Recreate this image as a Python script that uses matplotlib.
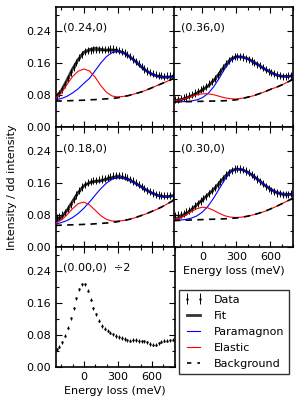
import matplotlib
matplotlib.use("Agg")
import matplotlib.pyplot as plt
from matplotlib.lines import Line2D
from matplotlib.ticker import MultipleLocator, FixedLocator, FormatStrFormatter

plt.rcParams['font.family'] = ['DejaVu Sans']
plt.rcParams['font.size'] = 8

# ---- energy grids (meV) ----
E_data = [-240, -215, -190, -165, -140, -115, -90, -65, -40, -15, 10, 35, 60, 85,
          110, 135, 160, 185, 210, 235, 260, 285, 310, 335, 360, 385, 410, 435,
          460, 485, 510, 535, 560, 585, 610, 635, 660, 685, 710, 735, 760, 785]
E_fit = [-250, -200, -150, -100, -50, 0, 50, 100, 150, 200, 250, 300, 350, 400,
         450, 500, 550, 600, 650, 700, 750, 800]

# ---- panel (0.24,0) ----
d24 = [.077, .084, .094, .107, .122, .137, .150, .161, .173, .182, .188, .191, .192, .193,
       .193, .193, .193, .193, .194, .195, .195, .194, .191, .188, .185, .181, .176, .170,
       .164, .158, .151, .145, .140, .136, .133, .131, .129, .128, .127, .128, .128, .129]
bg24 = [.065, .065, .0655, .066, .0665, .067, .068, .0685, .0695, .0705, .0715, .073, .076,
        .079, .083, .087, .092, .098, .104, .110, .116, .122]
el24 = [.007, .019, .040, .060, .073, .078, .072, .056, .034, .016, .006, .002, .0005,
        0, 0, 0, 0, 0, 0, 0, 0, 0]
pm24 = [.003, .006, .011, .019, .029, .042, .0536, .0723, .0906, .1057, .1145, .1155,
        .1094, .0978, .0823, .0652, .0487, .0343, .0228, .0142, .0084, .0047]

# ---- panel (0.36,0) ----
d36 = [.068, .069, .071, .073, .075, .078, .081, .085, .089, .093, .097, .102, .108, .114,
       .121, .129, .139, .148, .158, .166, .172, .176, .177, .176, .175, .172, .169, .165,
       .161, .157, .153, .148, .143, .139, .136, .133, .130, .128, .127, .127, .128, .129]
bg36 = [.063, .063, .0632, .0635, .064, .0642, .0645, .065, .0652, .0657, .0667, .068, .071,
        .0745, .078, .083, .088, .094, .099, .105, .112, .119]
el36 = [.0022, .0045, .0081, .0124, .0164, .0188, .0185, .0157, .0115, .0073, .004, .0019,
        .0008, .0003, 0, 0, 0, 0, 0, 0, 0, 0]
pm36 = [0, .0001, .0004, .0013, .0037, .009, .0191, .0354, .0572, .0806, .099, .106, .1034,
        .096, .0849, .0714, .0572, .0436, .0316, .0219, .0143, .009]

# ---- panel (0.18,0) ----
d18 = [.074, .076, .080, .087, .096, .107, .119, .130, .141, .150, .157, .161, .164, .166,
       .167, .168, .170, .172, .174, .176, .178, .179, .179, .178, .176, .173, .169, .165,
       .161, .156, .151, .146, .142, .138, .135, .132, .130, .129, .128, .128, .129, .131]
bg18 = [.054, .0545, .055, .0555, .056, .0565, .057, .058, .059, .060, .0615, .0635, .066,
        .069, .073, .078, .083, .089, .095, .102, .110, .118]
el18 = [.0052, .0126, .0249, .0401, .0524, .0558, .0483, .034, .0194, .0091, .0034, .0011,
        .0003, 0, 0, 0, 0, 0, 0, 0, 0, 0]
pm18 = [.0034, .0063, .011, .018, .0278, .0404, .0554, .0716, .0871, .0999, .108, .11, .1065,
        .0986, .0873, .0737, .0597, .0461, .034, .024, .0162, .0105]

# ---- panel (0.30,0) ----
d30 = [.079, .080, .082, .084, .088, .092, .097, .103, .109, .115, .121, .127, .134, .141,
       .148, .156, .164, .172, .180, .187, .192, .195, .196, .195, .193, .190, .186, .181,
       .176, .170, .164, .158, .152, .147, .142, .138, .135, .133, .131, .131, .132, .133]
bg30 = [.066, .0665, .067, .0675, .068, .0685, .069, .0695, .070, .0705, .0715, .0725, .0745,
        .077, .0805, .0845, .089, .095, .101, .108, .115, .122]
el30 = [.0027, .0063, .0125, .0204, .0276, .031, .0287, .022, .014, .0074, .0032, .0012,
        .0004, 0, 0, 0, 0, 0, 0, 0, 0, 0]
pm30 = [.0002, .0007, .0018, .0044, .0095, .0186, .033, .0529, .076, .0987, .1153, .1215,
        .1186, .1101, .0972, .0819, .0655, .0499, .0362, .025, .0164, .0103]

# ---- panel (0.00,0) (divided by 2) ----
d00 = [.044, .051, .062, .078, .098, .122, .147, .172, .194, .207, .207, .191, .168, .147,
       .132, .116, .1025, .096, .091, .086, .082, .0775, .075, .0725, .070, .067, .066, .0675,
       .0675, .065, .064, .064, .062, .0575, .056, .056, .059, .063, .066, .066, .067, .068]

err_fit_panels = 0.009
err_zero = 0.004

labels = ["(0.24,0)", "(0.36,0)", "(0.18,0)", "(0.30,0)", "(0.00,0)  \u00f72"]
yticks = [0.00, 0.08, 0.16, 0.24]
xticks = [0, 300, 600]

fig = plt.figure(figsize=(3, 4), dpi=100)
W, H = 300.0, 400.0
lx, rx, pw = 55.5 / W, 174.0 / W, 119.0 / W
ph = 120.0 / H
rows = [1 - 127 / H, 1 - 247 / H, 1 - 367 / H]

ax_tl = fig.add_axes([lx, rows[0], pw, ph])
ax_tr = fig.add_axes([rx, rows[0], pw, ph])
ax_ml = fig.add_axes([lx, rows[1], pw, ph])
ax_mr = fig.add_axes([rx, rows[1], pw, ph])
ax_bl = fig.add_axes([lx, rows[2], pw, ph])

panels = [
    (ax_tl, d24, bg24, el24, pm24, labels[0], False, True),
    (ax_tr, d36, bg36, el36, pm36, labels[1], False, False),
    (ax_ml, d18, bg18, el18, pm18, labels[2], False, True),
    (ax_mr, d30, bg30, el30, pm30, labels[3], True, False),
]

dash = (0, (3.8, 3.2))
handles = None
for ax, d, bg, el, pm, lab, showx, showy in panels:
    red = [b + e for b, e in zip(bg, el)]
    blue = [b + p for b, p in zip(bg, pm)]
    fit = [b + e + p for b, e, p in zip(bg, el, pm)]
    h_fit, = ax.plot(E_fit, fit, color='0.2', lw=2.0, zorder=2)
    h_dat = ax.errorbar(E_data, d, yerr=err_fit_panels, fmt='.', color='k', ms=1.5,
                        elinewidth=0.7, capsize=0, zorder=3)
    h_pm, = ax.plot(E_fit, blue, color='blue', lw=0.8, zorder=4)
    h_el, = ax.plot(E_fit, red, color='red', lw=0.8, zorder=4)
    ax.plot(E_fit, bg, color='k', lw=1.2, ls=dash, zorder=5)
    ax.text(0.06, 0.825, lab, transform=ax.transAxes, ha='left', va='center', fontsize=8)
    if handles is None:
        h_bg = Line2D([], [], color='k', lw=1.2, ls=(0, (2.6, 3.6)))
        handles = [h_dat, h_fit, h_pm, h_el, h_bg]
    if not showx:
        ax.tick_params(labelbottom=False)
    if not showy:
        ax.tick_params(labelleft=False)

ax_bl.errorbar(E_data, d00, yerr=err_zero, fmt='.', color='k', ms=1.5,
               elinewidth=0.7, capsize=0)
ax_bl.text(0.06, 0.825, labels[4], transform=ax_bl.transAxes, ha='left', va='center',
           fontsize=8)

for ax in [ax_tl, ax_tr, ax_ml, ax_mr, ax_bl]:
    ax.set_xlim(-250, 800)
    ax.set_ylim(0, 0.30)
    ax.xaxis.set_major_locator(FixedLocator(xticks))
    ax.xaxis.set_minor_locator(MultipleLocator(100))
    ax.yaxis.set_major_locator(FixedLocator(yticks))
    ax.yaxis.set_minor_locator(MultipleLocator(0.04))
    ax.yaxis.set_major_formatter(FormatStrFormatter('%.2f'))
    ax.tick_params(which='both', direction='in', top=True, right=True, labelsize=8,
                   width=0.8)
    ax.tick_params(which='major', length=4)
    ax.tick_params(which='minor', length=2)
    for s in ax.spines.values():
        s.set_linewidth(1.2)

ax_bl.set_xlabel("Energy loss (meV)", fontsize=8, labelpad=3)
ax_mr.set_xlabel("Energy loss (meV)", fontsize=8, labelpad=3)

fig.text(12 / W, 1 - 187 / H, "Intensity / dd intensity", rotation=90,
         ha='center', va='center', fontsize=8)

leg = fig.legend(handles, ["Data", "Fit", "Paramagnon", "Elastic", "Background"],
                 loc='center', bbox_to_anchor=(234 / W, 1 - 332 / H), numpoints=2,
                 fontsize=8, frameon=True, fancybox=False, handlelength=1.8,
                 handletextpad=1.0, borderpad=0.4, labelspacing=0.55)
leg.get_frame().set_edgecolor('k')
leg.get_frame().set_linewidth(1.0)

fig.savefig("out.png", dpi=100)
